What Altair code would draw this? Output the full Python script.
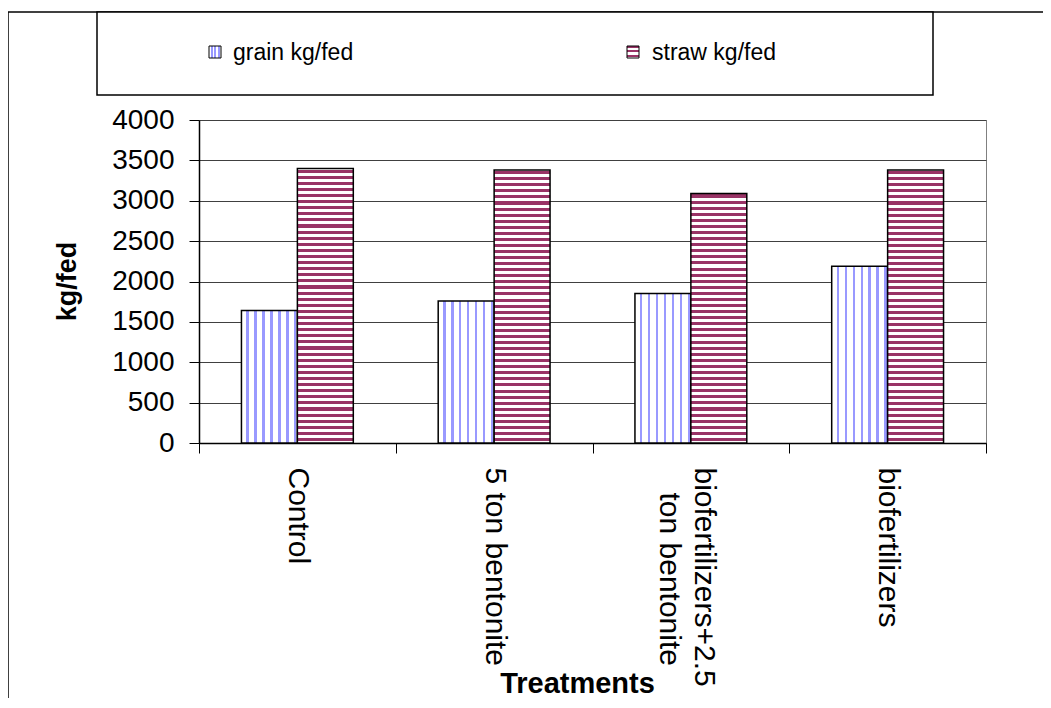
import altair as alt
import pandas as pd

treatments = ["Control", "5 ton bentonite", "biofertilizers+2.5 ton bentonite", "biofertilizers"]
grain = [1640, 1760, 1850, 2190]
straw = [3400, 3380, 3090, 3380]
series = ["grain kg/fed", "straw kg/fed"]
y_ticks = [0, 500, 1000, 1500, 2000, 2500, 3000, 3500, 4000]

BLUE = "#9999FF"
MAROON = "#993366"
FONT = "Liberation Sans"

rows = []
for t, g, s in zip(treatments, grain, straw):
    rows.append({"Treatment": t, "Series": series[0], "Value": g})
    rows.append({"Treatment": t, "Series": series[1], "Value": s})
df = pd.DataFrame(rows)


def stripe_gradient(color, n, start, period, width, vertical):
    stops = [alt.GradientStop(offset=0, color="white")]
    for i in range(n):
        a = start + i * period
        b = min(a + width, 1.0)
        if a >= 1.0:
            break
        stops += [alt.GradientStop(offset=a, color="white"),
                  alt.GradientStop(offset=a, color=color),
                  alt.GradientStop(offset=b, color=color),
                  alt.GradientStop(offset=b, color="white")]
    stops.append(alt.GradientStop(offset=1, color="white"))
    if vertical:
        return alt.LinearGradient(gradient="linear", stops=stops, x1=0, y1=0, x2=1, y2=0)
    return alt.LinearGradient(gradient="linear", stops=stops, x1=0, y1=0, x2=0, y2=1)


grain_fill = stripe_gradient(BLUE, 7, 0.09, 0.142, 0.042, True)

W, H = 787, 323
MULTI = treatments[2]

X = alt.X("Treatment:N", sort=treatments,
          scale=alt.Scale(domain=treatments, paddingInner=0, paddingOuter=0),
          axis=alt.Axis(title="Treatments", tickBand="extent", tickSize=10, tickColor="black",
                        domainColor="black", domainWidth=1.5, labelAngle=90, labelAlign="left",
                        labelBaseline="middle", labelPadding=14, labelFontSize=30, labelFont=FONT,
                        labelColor="black", labelLimit=1000, labelOverlap=False, labelLineHeight=35,
                        labelOffset={"expr": "datum.value == '" + MULTI + "' ? 13 : 0"},
                        labelExpr="datum.value == '" + MULTI + "' ? ['biofertilizers+2.5', '\u200b\u00a0\u00a0\u00a0ton bentonite'] : datum.value",
                        titleFont=FONT, titleFontSize=29, titleFontWeight="bold", titleColor="black",
                        titleX=378, titleY=240, titleAlign="center", titleBaseline="middle"))
XO = alt.XOffset("Series:N", scale=alt.Scale(domain=series, paddingInner=0, paddingOuter=0.759))
Y = alt.Y("Value:Q", scale=alt.Scale(domain=[0, 4000], nice=False),
          axis=alt.Axis(values=y_ticks, format="d", grid=True, gridColor="#404040", gridWidth=1,
                        domainColor="black", domainWidth=1.5, tickColor="black", tickSize=10,
                        labelFontSize=28, labelFont=FONT, labelColor="black", labelPadding=15,
                        title="kg/fed", titleFont=FONT, titleFontSize=27, titleFontWeight="bold",
                        titleColor="black", titleAngle=-90, titleX=-132, titleY=161,
                        titleAlign="center", titleBaseline="middle"))

one = pd.DataFrame({"a": [0]})

# decoration: outer frame and legend box
frame_top = alt.Chart(one).mark_rule(color="black", strokeWidth=1.5).encode(
    x=alt.value(-191), x2=alt.value(900), y=alt.value(-108))
frame_left = alt.Chart(one).mark_rule(color="black", strokeWidth=1.5).encode(
    x=alt.value(-191), y=alt.value(-108), y2=alt.value(700))
legend_box = alt.Chart(one).mark_rect(fill="white", stroke="black", strokeWidth=1.5).encode(
    x=alt.value(-102), x2=alt.value(734), y=alt.value(-108), y2=alt.value(-25))

leg_grain_sym = alt.Chart(one).mark_rect(
    fill=stripe_gradient(BLUE, 3, 0.15, 0.3, 0.15, True), stroke="black", strokeWidth=1).encode(
    x=alt.value(10), x2=alt.value(22), y=alt.value(-74), y2=alt.value(-62))
leg_grain_txt = alt.Chart(one).mark_text(align="left", baseline="middle", font=FONT,
                                         fontSize=23, color="black").encode(
    x=alt.value(34), y=alt.value(-67), text=alt.value(series[0]))
leg_straw_sym = alt.Chart(one).mark_rect(
    fill=stripe_gradient(MAROON, 3, 0.0, 0.36, 0.18, False), stroke="black", strokeWidth=1).encode(
    x=alt.value(428), x2=alt.value(440), y=alt.value(-74), y2=alt.value(-62))
leg_straw_txt = alt.Chart(one).mark_text(align="left", baseline="middle", font=FONT,
                                         fontSize=23, color="black").encode(
    x=alt.value(453), y=alt.value(-67), text=alt.value(series[1]))

grain_layer = alt.Chart(df).transform_filter(
    alt.datum.Series == series[0]).mark_bar(
    fill=grain_fill, stroke="black", strokeWidth=1.5).encode(x=X, xOffset=XO, y=Y)

straw_layers = []
for t, s in zip(treatments, straw):
    n = max(1, round(s / 75))
    g = stripe_gradient(MAROON, n, 0.004, 1.0 / n, 0.5 / n, False)
    straw_layers.append(
        alt.Chart(df).transform_filter(
            (alt.datum.Series == series[1]) & (alt.datum.Treatment == t)).mark_bar(
            fill=g, stroke="black", strokeWidth=1.5).encode(x=X, xOffset=XO, y=Y))

chart = alt.layer(
    grain_layer, *straw_layers,
    frame_top, frame_left, legend_box,
    leg_grain_sym, leg_grain_txt, leg_straw_sym, leg_straw_txt,
).properties(
    width=W, height=H,
    autosize=alt.AutoSizeParams(type="none"),
    padding={"left": 191, "top": 112, "right": 57, "bottom": 255},
    background="white",
).configure_view(stroke="#808080", strokeWidth=1)

chart.save("out.html", embed_options={"renderer": "svg", "actions": False})
